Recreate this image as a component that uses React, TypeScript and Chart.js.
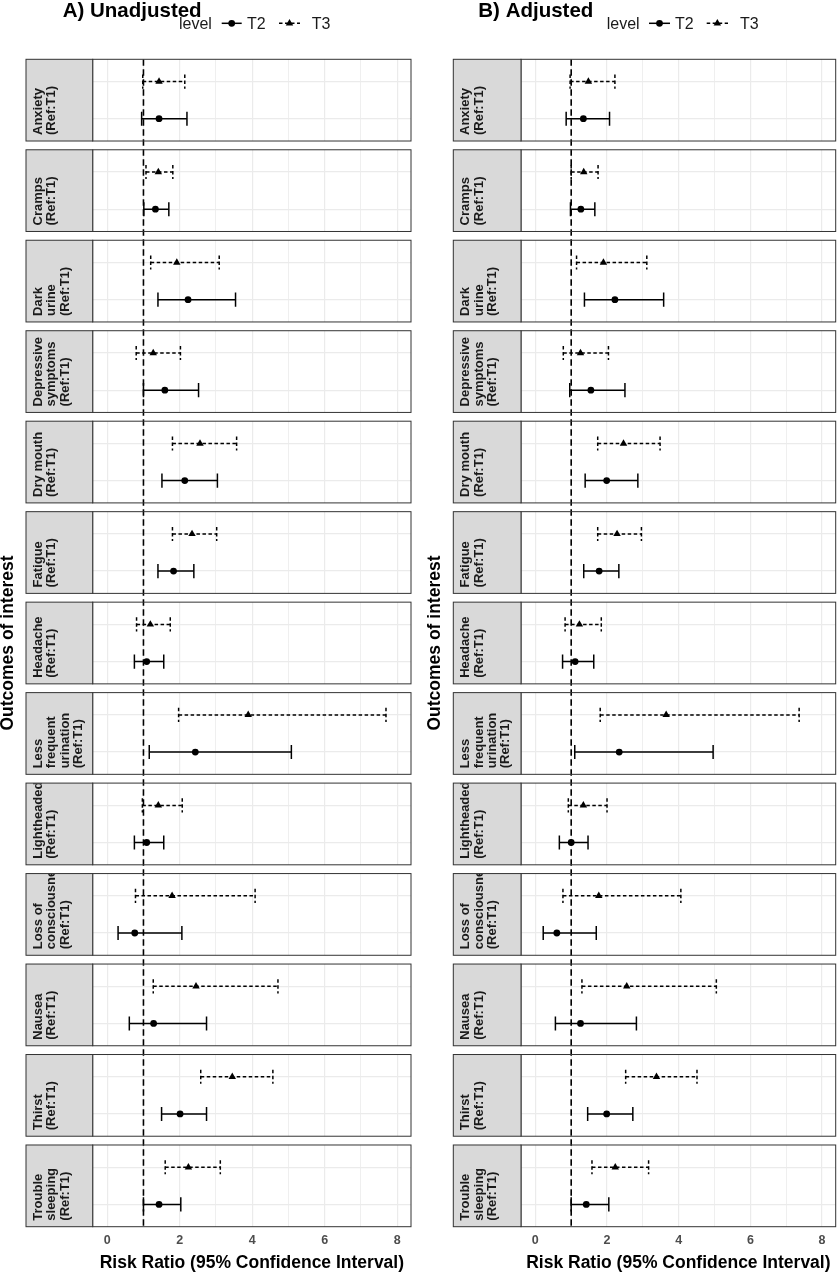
import React, { useEffect, useRef } from "react";
import { Chart, registerables } from "chart.js";

Chart.register(...registerables);

const FONT = '"Liberation Sans", Arial, Helvetica, sans-serif';

// ---------- data ----------
const outcomes = [
  "Anxiety\n(Ref:T1)",
  "Cramps\n(Ref:T1)",
  "Dark\nurine\n(Ref:T1)",
  "Depressive\nsymptoms\n(Ref:T1)",
  "Dry mouth\n(Ref:T1)",
  "Fatigue\n(Ref:T1)",
  "Headache\n(Ref:T1)",
  "Less\nfrequent\nurination\n(Ref:T1)",
  "Lightheaded\n(Ref:T1)",
  "Loss of\nconsciousness\n(Ref:T1)",
  "Nausea\n(Ref:T1)",
  "Thirst\n(Ref:T1)",
  "Trouble\nsleeping\n(Ref:T1)",
];
const levels = ["T2", "T3"];
const legendTitle = "level";
const xMajorTicks = [0, 2, 4, 6, 8];
const xMinorTicks = [1, 3, 5, 7];
const referenceValue = 1;
const xTitle = "Risk Ratio (95% Confidence Interval)";
const yTitle = "Outcomes of interest";
const panelTitles = ["A) Unadjusted", "B) Adjusted"];

// A) Unadjusted
const unadjT2Est = [1.43, 1.33, 2.23, 1.59, 2.14, 1.83, 1.09, 2.43, 1.09, 0.76, 1.28, 2.01, 1.43];
const unadjT2Lo = [0.95, 1.01, 1.40, 1.00, 1.51, 1.40, 0.75, 1.16, 0.75, 0.30, 0.61, 1.50, 1.00];
const unadjT2Hi = [2.20, 1.70, 3.54, 2.52, 3.04, 2.39, 1.56, 5.08, 1.56, 2.06, 2.74, 2.74, 2.03];
const unadjT3Est = [1.43, 1.41, 1.92, 1.27, 2.56, 2.34, 1.19, 3.89, 1.41, 1.79, 2.45, 3.45, 2.24];
const unadjT3Lo = [0.98, 1.07, 1.20, 0.80, 1.80, 1.80, 0.81, 1.97, 0.97, 0.78, 1.27, 2.58, 1.60];
const unadjT3Hi = [2.14, 1.81, 3.09, 2.02, 3.57, 3.02, 1.74, 7.69, 2.07, 4.08, 4.71, 4.57, 3.12];

// B) Adjusted
const adjT2Est = [1.34, 1.27, 2.22, 1.55, 1.99, 1.78, 1.11, 2.34, 1.00, 0.60, 1.26, 1.99, 1.42];
const adjT2Lo = [0.86, 0.98, 1.37, 0.96, 1.39, 1.35, 0.76, 1.10, 0.67, 0.22, 0.56, 1.46, 1.00];
const adjT2Hi = [2.07, 1.66, 3.58, 2.50, 2.86, 2.33, 1.63, 4.96, 1.47, 1.70, 2.82, 2.72, 2.05];
const adjT3Est = [1.48, 1.35, 1.90, 1.26, 2.46, 2.28, 1.23, 3.65, 1.34, 1.77, 2.55, 3.38, 2.23];
const adjT3Lo = [0.97, 1.00, 1.15, 0.78, 1.74, 1.74, 0.83, 1.81, 0.92, 0.77, 1.30, 2.52, 1.58];
const adjT3Hi = [2.22, 1.75, 3.11, 2.04, 3.48, 2.96, 1.84, 7.36, 2.00, 4.06, 5.05, 4.51, 3.16];

// ---------- layout constants ----------
const X_MIN = -0.4;
const X_MAX = 8.38;
const FACET_H = 2.2;
const GAP = 0.236;
const PITCH = FACET_H + GAP;
const N = outcomes.length;
const Y_MAX = N * FACET_H + (N - 1) * GAP;
const LEVEL_OFFSET: Record<string, number> = { T3: 0.6, T2: 1.6 };
const CAP = 0.19;
const T3_DASH = [3.5, 2.5];
const REF_DASH = [6.5, 3.5];
const BAR_W = 1.5;

const CANVAS_W = 420;
const CANVAS_H = 1273;
const PLOT_TOP = 59.3;
const PLOT_BOTTOM = 1226.7;

type Series = { level: string; est: number[]; lo: number[]; hi: number[] };
type Panel = {
  title: string;
  series: Series[];
  chartLeft: number;
  chartRight: number;
  stripLeft: number;
  titleX: number;
  yTitlePad: number;
  legend: { levelX: number; k2: [number, number]; t2X: number; k3: [number, number]; t3X: number };
};

const panels: Panel[] = [
  {
    title: panelTitles[0],
    series: [
      { level: levels[0], est: unadjT2Est, lo: unadjT2Lo, hi: unadjT2Hi },
      { level: levels[1], est: unadjT3Est, lo: unadjT3Lo, hi: unadjT3Hi },
    ],
    chartLeft: 92.7,
    chartRight: 411,
    stripLeft: 26,
    titleX: 62.7,
    yTitlePad: 0,
    legend: { levelX: 179, k2: [221.7, 241.7], t2X: 247, k3: [279, 300], t3X: 311.7 },
  },
  {
    title: panelTitles[1],
    series: [
      { level: levels[0], est: adjT2Est, lo: adjT2Lo, hi: adjT2Hi },
      { level: levels[1], est: adjT3Est, lo: adjT3Lo, hi: adjT3Hi },
    ],
    chartLeft: 101,
    chartRight: 419,
    stripLeft: 33.3,
    titleX: 58.3,
    yTitlePad: 7.6,
    legend: { levelX: 186.7, k2: [229, 250], t2X: 255, k3: [286.7, 308], t3X: 320 },
  },
];

function seg(data: { x: number; y: number }[], dash: number[]) {
  return {
    data,
    showLine: true,
    borderColor: "#000",
    borderWidth: BAR_W,
    borderDash: dash,
    pointRadius: 0,
    fill: false,
    order: 1,
  };
}

function buildDatasets(p: Panel) {
  const ds: any[] = [];
  p.series.forEach((s) => {
    const yOff = LEVEL_OFFSET[s.level];
    const dash = s.level === "T3" ? T3_DASH : [];
    ds.push({
      label: s.level,
      data: s.est.map((v, i) => ({ x: v, y: i * PITCH + yOff })),
      showLine: false,
      pointStyle: s.level === "T3" ? "triangle" : "circle",
      pointRadius: s.level === "T3" ? 4.3 : 3.4,
      pointBackgroundColor: "#000",
      pointBorderColor: "#000",
      pointBorderWidth: 0,
      order: 0,
    });
    s.est.forEach((_, i) => {
      const y = i * PITCH + yOff;
      ds.push(seg([{ x: s.lo[i], y }, { x: s.hi[i], y }], dash));
      ds.push(seg([{ x: s.lo[i], y: y - CAP }, { x: s.lo[i], y: y + CAP }], dash));
      ds.push(seg([{ x: s.hi[i], y: y - CAP }, { x: s.hi[i], y: y + CAP }], dash));
    });
  });
  ds.push({
    data: [
      { x: referenceValue, y: 0 },
      { x: referenceValue, y: Y_MAX },
    ],
    showLine: true,
    borderColor: "#000",
    borderWidth: 1.6,
    borderDash: REF_DASH,
    pointRadius: 0,
    fill: false,
    order: 2,
  });
  return ds;
}

function facetPlugin(p: Panel) {
  return {
    id: "facets",
    beforeDatasetsDraw(chart: any) {
      const { ctx, chartArea, scales } = chart;
      const y = scales.y;
      ctx.save();
      ctx.fillStyle = "#ffffff";
      for (let i = 0; i < N - 1; i++) {
        const t = y.getPixelForValue(i * PITCH + FACET_H);
        const b = y.getPixelForValue((i + 1) * PITCH);
        ctx.fillRect(chartArea.left - 2, t, chartArea.right - chartArea.left + 4, b - t);
      }
      ctx.restore();
    },
    afterDatasetsDraw(chart: any) {
      const { ctx, chartArea, scales } = chart;
      const y = scales.y;
      for (let i = 0; i < N; i++) {
        const t = y.getPixelForValue(i * PITCH);
        const b = y.getPixelForValue(i * PITCH + FACET_H);
        ctx.save();
        ctx.strokeStyle = "#333333";
        ctx.lineWidth = 1;
        ctx.strokeRect(chartArea.left, t, chartArea.right - chartArea.left, b - t);
        const sw = chartArea.left - p.stripLeft;
        ctx.fillStyle = "#D9D9D9";
        ctx.fillRect(p.stripLeft, t, sw, b - t);
        ctx.strokeRect(p.stripLeft, t, sw, b - t);
        ctx.beginPath();
        ctx.rect(p.stripLeft + 0.5, t + 0.5, sw - 1, b - t - 1);
        ctx.clip();
        ctx.fillStyle = "#1A1A1A";
        ctx.font = `bold 13px ${FONT}`;
        ctx.textAlign = "left";
        ctx.textBaseline = "alphabetic";
        const lines = outcomes[i].split("\n");
        lines.forEach((ln, j) => {
          ctx.save();
          ctx.translate(p.stripLeft + 15.8 + j * 13.4, b - 6);
          ctx.rotate(-Math.PI / 2);
          ctx.fillText(ln, 0, 0);
          ctx.restore();
        });
        ctx.restore();
      }
    },
    afterDraw(chart: any) {
      const { ctx } = chart;
      ctx.save();
      ctx.fillStyle = "#000";
      ctx.font = `bold 20.5px ${FONT}`;
      ctx.textAlign = "left";
      ctx.textBaseline = "alphabetic";
      ctx.fillText(p.title, p.titleX, 16.8);
      const L = p.legend;
      const ly = 23.3;
      ctx.font = `16px ${FONT}`;
      ctx.fillStyle = "#1A1A1A";
      ctx.fillText(legendTitle, L.levelX, 29);
      ctx.fillText(levels[0], L.t2X, 29);
      ctx.fillText(levels[1], L.t3X, 29);
      ctx.strokeStyle = "#000";
      ctx.lineWidth = BAR_W;
      ctx.setLineDash([]);
      ctx.beginPath();
      ctx.moveTo(L.k2[0], ly);
      ctx.lineTo(L.k2[1], ly);
      ctx.stroke();
      ctx.fillStyle = "#000";
      ctx.beginPath();
      ctx.arc((L.k2[0] + L.k2[1]) / 2, ly, 3.4, 0, Math.PI * 2);
      ctx.fill();
      ctx.setLineDash(T3_DASH);
      ctx.beginPath();
      ctx.moveTo(L.k3[0], ly);
      ctx.lineTo(L.k3[1], ly);
      ctx.stroke();
      ctx.setLineDash([]);
      const cx = (L.k3[0] + L.k3[1]) / 2;
      const r = 4.3;
      ctx.beginPath();
      ctx.moveTo(cx, ly - r);
      ctx.lineTo(cx + r * Math.sin(Math.PI / 3), ly + r / 2);
      ctx.lineTo(cx - r * Math.sin(Math.PI / 3), ly + r / 2);
      ctx.closePath();
      ctx.fill();
      ctx.restore();
    },
  };
}

function makeConfig(p: Panel): any {
  const allTicks = [...xMajorTicks, ...xMinorTicks].sort((a, b) => a - b);
  const yTicks: number[] = [];
  for (let i = 0; i < N; i++) {
    yTicks.push(i * PITCH + LEVEL_OFFSET.T3, i * PITCH + LEVEL_OFFSET.T2);
  }
  return {
    type: "scatter",
    data: { datasets: buildDatasets(p) },
    options: {
      responsive: false,
      animation: false,
      devicePixelRatio: 1,
      events: [],
      layout: { padding: { left: 0, right: CANVAS_W - p.chartRight, top: PLOT_TOP, bottom: 0 } },
      plugins: {
        legend: { display: false },
        tooltip: { enabled: false },
        title: { display: false },
      },
      scales: {
        x: {
          type: "linear",
          min: X_MIN,
          max: X_MAX,
          afterBuildTicks: (axis: any) => {
            axis.ticks = allTicks.map((v) => ({ value: v }));
          },
          afterFit: (s: any) => {
            s.height = CANVAS_H - PLOT_BOTTOM;
          },
          ticks: {
            autoSkip: false,
            maxRotation: 0,
            padding: 6.8,
            color: "#4D4D4D",
            font: { family: FONT, size: 12.5, weight: "bold" },
            callback: (v: any) => (xMajorTicks.includes(v) ? String(v) : ""),
          },
          grid: {
            color: "#EBEBEB",
            drawTicks: false,
            lineWidth: (c: any) => (c.tick && xMajorTicks.includes(c.tick.value) ? 1.2 : 0.8),
          },
          border: { display: false },
          title: {
            display: true,
            text: xTitle,
            color: "#000",
            font: { family: FONT, size: 17.5, weight: "bold", lineHeight: 1.0 },
            padding: { top: 0, bottom: 0.75 },
          },
        },
        y: {
          type: "linear",
          reverse: true,
          min: 0,
          max: Y_MAX,
          afterBuildTicks: (axis: any) => {
            axis.ticks = yTicks.map((v) => ({ value: v }));
          },
          afterFit: (s: any) => {
            s.width = p.chartLeft;
          },
          ticks: { display: false },
          grid: { color: "#EBEBEB", lineWidth: 1.2, drawTicks: false },
          border: { display: false },
          title: {
            display: true,
            text: yTitle,
            color: "#000",
            font: { family: FONT, size: 17.5, weight: "bold", lineHeight: 0.9 },
            padding: { top: p.yTitlePad, bottom: 0 },
          },
        },
      },
    },
    plugins: [facetPlugin(p)],
  };
}

export default function App() {
  const refA = useRef<HTMLCanvasElement | null>(null);
  const refB = useRef<HTMLCanvasElement | null>(null);

  useEffect(() => {
    const charts: Chart[] = [];
    [refA, refB].forEach((r, idx) => {
      if (r.current) {
        charts.push(new Chart(r.current, makeConfig(panels[idx])));
      }
    });
    return () => charts.forEach((c) => c.destroy());
  }, []);

  const canvasStyle = (left: number): React.CSSProperties => ({
    position: "absolute",
    left,
    top: 0,
    width: CANVAS_W,
    height: CANVAS_H,
  });

  return (
    <div style={{ position: "absolute", left: 0, top: 0, width: 840, height: CANVAS_H, background: "#fff" }}>
      <canvas ref={refA} width={CANVAS_W} height={CANVAS_H} style={canvasStyle(0)} />
      <canvas ref={refB} width={CANVAS_W} height={CANVAS_H} style={canvasStyle(420)} />
    </div>
  );
}
